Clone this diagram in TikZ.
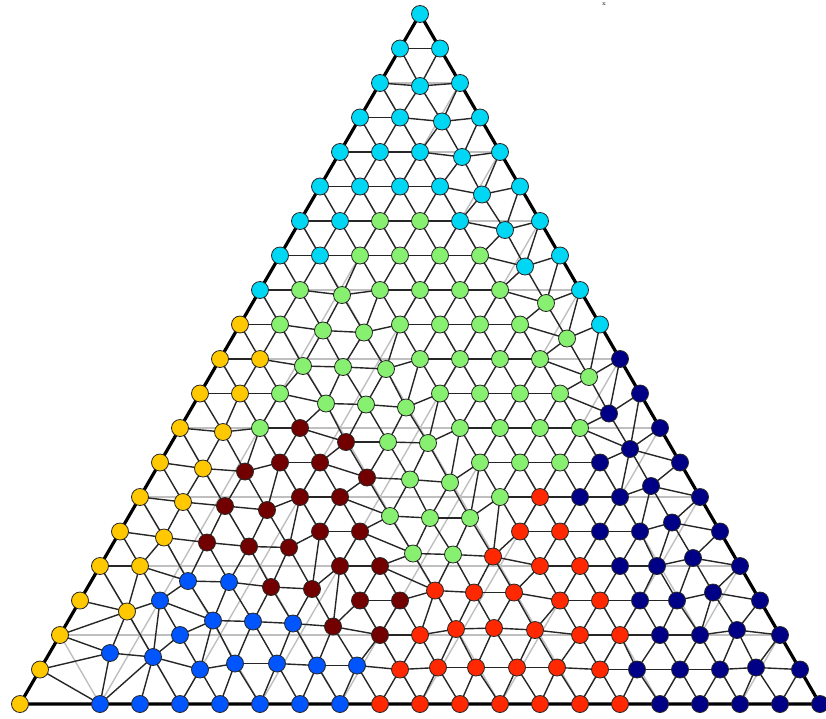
\documentclass[tikz,border=0pt]{standalone}
\definecolor{cC}{RGB}{0,215,245}
\definecolor{cG}{RGB}{136,240,112}
\definecolor{cY}{RGB}{255,200,0}
\definecolor{cD}{RGB}{115,0,0}
\definecolor{cR}{RGB}{255,40,0}
\definecolor{cB}{RGB}{0,85,255}
\definecolor{cN}{RGB}{0,0,135}
\tikzset{
  mnode/.style={circle, draw=black!85, line width=0.8pt, minimum size=17pt, inner sep=0pt},
  medge/.style={draw=black!85, line width=1.4pt},
  coarse/.style={draw=black!25, line width=1.4pt},
  rim/.style={draw=black, line width=3.2pt, line join=miter}
}
\def\nodelist{0/0/0/0/C,
1/0/0/0/C, 1/1/0/0/C,
2/0/0/0/C, 2/1/0/3/C, 2/2/0/0/C,
3/0/0/0/C, 3/1/0/0/C, 3/2/2/4/C, 3/3/0/0/C,
4/0/0/0/C, 4/1/0/0/C, 4/2/0/0/C, 4/3/2/5/C, 4/4/0/0/C,
5/0/0/0/C, 5/1/0/0/C, 5/2/0/0/C, 5/3/0/0/C, 5/4/2/8/C, 5/5/0/0/C,
6/0/0/0/C, 6/1/0/0/C, 6/2/0/0/G, 6/3/0/0/G, 6/4/0/0/C, 6/5/5/9/C, 6/6/0/0/C,
7/0/0/0/C, 7/1/0/0/C, 7/2/0/0/G, 7/3/0/0/G, 7/4/0/0/G, 7/5/0/0/G, 7/6/5/11/C, 7/7/0/0/C,
8/0/0/0/C, 8/1/0/0/G, 8/2/2/5/G, 8/3/0/0/G, 8/4/0/0/G, 8/5/0/0/G, 8/6/0/0/G, 8/7/6/13/G, 8/8/0/0/C,
9/0/0/0/Y, 9/1/0/0/G, 9/2/3/6/G, 9/3/4/8/G, 9/4/0/0/G, 9/5/0/0/G, 9/6/0/0/G, 9/7/0/0/G, 9/8/7/14/G, 9/9/0/0/C,
10/0/0/0/Y, 10/1/0/0/Y, 10/2/3/7/G, 10/3/3/8/G, 10/4/6/10/G, 10/5/0/0/G, 10/6/0/0/G, 10/7/0/0/G, 10/8/0/0/G, 10/9/9/18/G, 10/10/0/0/N,
11/0/0/0/Y, 11/1/0/0/Y, 11/2/0/0/G, 11/3/6/10/G, 11/4/6/11/G, 11/5/6/14/G, 11/6/0/0/G, 11/7/0/0/G, 11/8/0/0/G, 11/9/0/0/G, 11/10/9/20/N, 11/11/0/0/N,
12/0/0/0/Y, 12/1/3/4/Y, 12/2/0/0/G, 12/3/0/0/D, 12/4/6/14/D, 12/5/8/14/G, 12/6/8/15/G, 12/7/0/0/G, 12/8/0/0/G, 12/9/0/0/G, 12/10/0/0/G, 12/11/10/21/N, 12/12/0/0/N,
13/0/0/0/Y, 13/1/3/6/Y, 13/2/5/9/D, 13/3/0/0/D, 13/4/0/0/D, 13/5/7/15/D, 13/6/10/17/G, 13/7/10/20/G, 13/8/0/0/G, 13/9/0/0/G, 13/10/0/0/G, 13/11/0/0/N, 13/13/0/0/N,
14/0/0/0/Y, 14/1/3/5/Y, 14/2/5/9/D, 14/3/7/13/D, 14/4/0/0/D, 14/5/0/0/D, 14/6/10/19/G, 14/7/10/21/G, 14/8/10/21/G, 14/9/0/0/G, 14/10/0/0/R, 14/11/0/0/N, 14/12/0/0/N, 14/13/-9/-11/N, 14/14/0/0/N,
15/0/0/0/Y, 15/1/4/6/Y, 15/2/7/11/D, 15/3/9/15/D, 15/4/9/16/D, 15/5/0/0/D, 15/6/0/0/D, 15/7/13/22/G, 15/8/13/23/G, 15/9/13/25/R, 15/10/0/0/R, 15/11/0/0/R, 15/12/0/0/N, 15/13/0/0/N, 15/14/-8/-9/N, 15/15/0/0/N,
16/0/0/0/Y, 16/1/0/0/Y, 16/2/8/15/B, 16/3/9/16/B, 16/4/11/21/D, 16/5/12/23/D, 16/6/0/0/D, 16/7/0/0/D, 16/11/0/0/R, 16/12/0/0/R, 16/13/0/0/N, 16/14/-3/0/N, 16/15/-7/-8/N, 16/16/0/0/N,
17/0/0/0/Y, 17/1/7/11/Y, 17/2/0/0/B, 17/3/13/20/B, 17/4/13/21/B, 17/5/13/23/B, 17/6/13/26/D, 17/7/0/0/D, 17/8/0/0/D, 17/9/-5/-10/R, 17/10/-6/-8/R, 17/11/-6/-8/R, 17/12/0/0/R, 17/13/0/0/R, 17/14/0/0/N, 17/15/-3/0/N, 17/16/-7/-8/N, 17/17/0/0/N,
18/0/0/0/Y, 18/3/0/0/B, 18/8/0/0/D, 18/9/0/0/R, 18/10/-4/-6/R, 18/11/-6/-7/R, 18/12/-5/-5/R, 18/13/0/0/R, 18/14/0/0/R, 18/15/0/0/N, 18/16/0/0/N, 18/17/-3/-5/N, 18/18/0/0/N,
19/0/0/0/Y, 19/1/30/-16.5/B, 19/2/33/-12.5/B, 19/4/0/0/B, 19/5/-5/-6/B, 19/6/-3/-6/B, 19/7/-3/-4/B, 19/8/-3/-4/B, 19/9/0/0/R, 19/10/-2/-2/R, 19/11/-4/-2/R, 19/12/-3/-2/R, 19/13/-3/-2/R, 19/14/0/0/R, 19/15/-3/0/N, 19/16/0/0/N, 19/17/0/0/N, 19/18/-4/-2/N, 19/19/0/0/N,
20/0/0/0/Y, 20/2/0/0/B, 20/3/0/0/B, 20/4/0/0/B, 20/5/0/0/B, 20/6/0/0/B, 20/7/0/0/B, 20/8/0/0/B, 20/9/0/0/R, 20/10/0/0/R, 20/11/0/0/R, 20/12/0/0/R, 20/13/0/0/R, 20/14/0/0/R, 20/15/0/0/R, 20/16/0/0/N, 20/17/0/0/N, 20/18/0/0/N, 20/19/0/0/N, 20/20/0/0/N}
\def\extraedges{n20-0/n20-2, n19-0/n20-2, n18-0/n17-1, n17-1/n19-1, n17-1/n19-2, n17-2/n19-2, n18-3/n19-2, n19-2/n19-4, n19-2/n20-4,
n17-3/n19-4, n17-3/n19-5, n17-4/n19-5, n17-4/n19-6, n17-5/n19-6, n17-5/n19-7, n17-6/n19-7, n17-6/n19-8, n17-6/n18-8,
n16-7/n17-9, n15-7/n17-9, n15-8/n17-9, n15-8/n17-10, n15-9/n17-10, n15-9/n17-11, n15-9/n16-11,
n12-11/n13-13, n12-11/n14-13, n12-11/n14-12}
\begin{document}
\begin{tikzpicture}[x=1pt,y=-1pt]
\useasboundingbox (0,0) rectangle (826,718);
% lattice reference points for the coarse grid
\foreach \r in {0,...,20} {
  \coordinate (lt\r) at ({420-20*\r},{14+34.5*\r});
  \coordinate (rt\r) at ({420+20*\r},{14+34.5*\r});
}
\foreach \k in {0,...,20} { \coordinate (bt\k) at ({20+40*\k},704); }
% coarse grey grid
\foreach \r in {2,4,...,18} {
  \pgfmathtruncatemacro\m{20-\r}
  \draw[coarse] (lt\r) -- (rt\r);
  \draw[coarse] (rt\r) -- (bt\r);
  \draw[coarse] (lt\r) -- (bt\m);
}
% mesh node positions
\foreach \r/\k/\dx/\dy/\c in \nodelist {
  \coordinate (n\r-\k) at ({420-20*\r+40*\k+(\dx)},{14+34.5*\r+(\dy)});
}
% lattice edges
\foreach \r/\k/\dx/\dy/\c in \nodelist {
  \pgfmathtruncatemacro\kk{\k+1}
  \pgfmathtruncatemacro\rr{\r+1}
  \ifcsname pgf@sh@ns@n\r-\kk\endcsname \draw[medge] (n\r-\k) -- (n\r-\kk);\fi
  \ifcsname pgf@sh@ns@n\rr-\k\endcsname \draw[medge] (n\r-\k) -- (n\rr-\k);\fi
  \ifcsname pgf@sh@ns@n\rr-\kk\endcsname \draw[medge] (n\r-\k) -- (n\rr-\kk);\fi
}
% edges across removed nodes
\foreach \a/\b in \extraedges { \draw[medge] (\a) -- (\b); }
% outer boundary
\draw[rim] (n0-0) -- (n20-0) -- (n20-20) -- cycle;
% nodes
\foreach \r/\k/\dx/\dy/\c in \nodelist {
  \node[mnode, fill=c\c] (v\r-\k) at (n\r-\k) {};
}
\node[anchor=base, font=\fontsize{6}{6}\selectfont, inner sep=0pt] (xmark) at (604,5) {x};
\end{tikzpicture}
\end{document}
